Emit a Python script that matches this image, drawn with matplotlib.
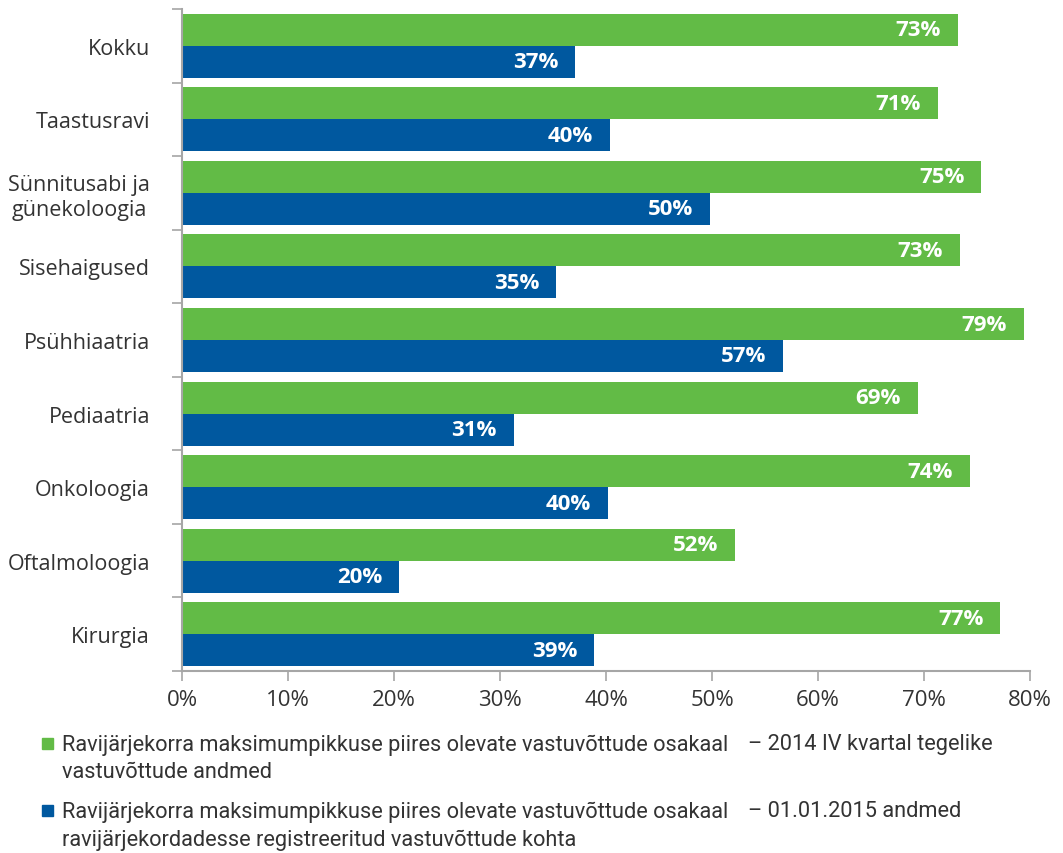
import numpy as np
import matplotlib.pyplot as plt
from matplotlib.patches import Rectangle
from matplotlib.ticker import FixedLocator, FuncFormatter

plt.rcParams['font.family'] = ['Open Sans', 'DejaVu Sans']

categories = ['Kokku', 'Taastusravi', 'Sünnitusabi ja\ngünekoloogia', 'Sisehaigused',
              'Psühhiaatria', 'Pediaatria', 'Onkoloogia', 'Oftalmoloogia', 'Kirurgia']
share_2014q4 = [73.2, 71.3, 75.4, 73.4, 79.4, 69.4, 74.3, 52.2, 77.2]
share_2015 = [37.1, 40.4, 49.8, 35.3, 56.7, 31.3, 40.2, 20.5, 38.9]
xticks = [0, 10, 20, 30, 40, 50, 60, 70, 80]

legend_main = 'Ravijärjekorra maksimumpikkuse piires olevate vastuvõttude osakaal'
legend_green = ('– 2014 IV kvartal tegelike', 'vastuvõttude andmed')
legend_blue = ('– 01.01.2015 andmed', 'ravijärjekordadesse registreeritud vastuvõttude kohta')

GREEN = '#62bb46'
BLUE = '#00589f'
GREY = '#a6a6a6'
TXT = '#333333'

fig = plt.figure(figsize=(10.63, 8.54), dpi=100)
ax = fig.add_axes([182 / 1063, 1 - 672 / 854, (1030 - 182) / 1063, (672 - 10) / 854])

y = np.arange(len(categories))
h = 0.435
ax.barh(y - h / 2, share_2014q4, height=h, color=GREEN, edgecolor='none')
ax.barh(y + h / 2, share_2015, height=h, color=BLUE, edgecolor='none')

for yi, v in zip(y, share_2014q4):
    ax.text(v - 1.6, yi - h / 2, f'{v:.0f}%', ha='right', va='center',
            color='white', fontsize=16, fontweight='bold')
for yi, v in zip(y, share_2015):
    ax.text(v - 1.6, yi + h / 2, f'{v:.0f}%', ha='right', va='center',
            color='white', fontsize=16, fontweight='bold')

ax.set_xlim(0, 80)
ax.set_ylim(len(categories) - 0.5, -0.5)

ax.set_xticks(xticks)
ax.xaxis.set_major_formatter(FuncFormatter(lambda v, p: f'{v:.0f}%'))
ax.tick_params(axis='x', length=7, color=GREY, width=1.2, labelsize=16,
               labelcolor=TXT, pad=6)

# boundary ticks between groups, labels centred on each group
ax.yaxis.set_major_locator(FixedLocator(np.arange(-0.5, len(categories), 1.0)))
ax.yaxis.set_major_formatter(FuncFormatter(lambda v, p: ''))
ax.yaxis.set_minor_locator(FixedLocator(y))
ax.set_yticklabels(categories, minor=True)
ax.tick_params(axis='y', which='major', length=7, color=GREY, width=1.2)
ax.tick_params(axis='y', which='minor', length=0, pad=23, labelsize=15.5,
               labelcolor=TXT)
for lab in ax.get_yticklabels(minor=True):
    lab.set_multialignment('center')

for s in ['top', 'right']:
    ax.spines[s].set_visible(False)
for s in ['left', 'bottom']:
    ax.spines[s].set_color(GREY)
    ax.spines[s].set_linewidth(1.5)

# legend drawn by hand
W, H = 1063, 854
leg_kw = dict(fontsize=15.7, color=TXT, va='center', ha='left',
              family=['Roboto', 'DejaVu Sans'])
for (col, lines, ytop) in [(GREEN, legend_green, 745), (BLUE, legend_blue, 812)]:
    fig.patches.append(Rectangle((42 / W, 1 - (ytop + 5) / H), 11 / W, 11 / H,
                                 transform=fig.transFigure, color=col))
    fig.text(62 / W, 1 - ytop / H, legend_main, **leg_kw)
    fig.text(748 / W, 1 - ytop / H, lines[0], **leg_kw)
    fig.text(62 / W, 1 - (ytop + 28) / H, lines[1], **leg_kw)

fig.savefig('out.png', dpi=100)
